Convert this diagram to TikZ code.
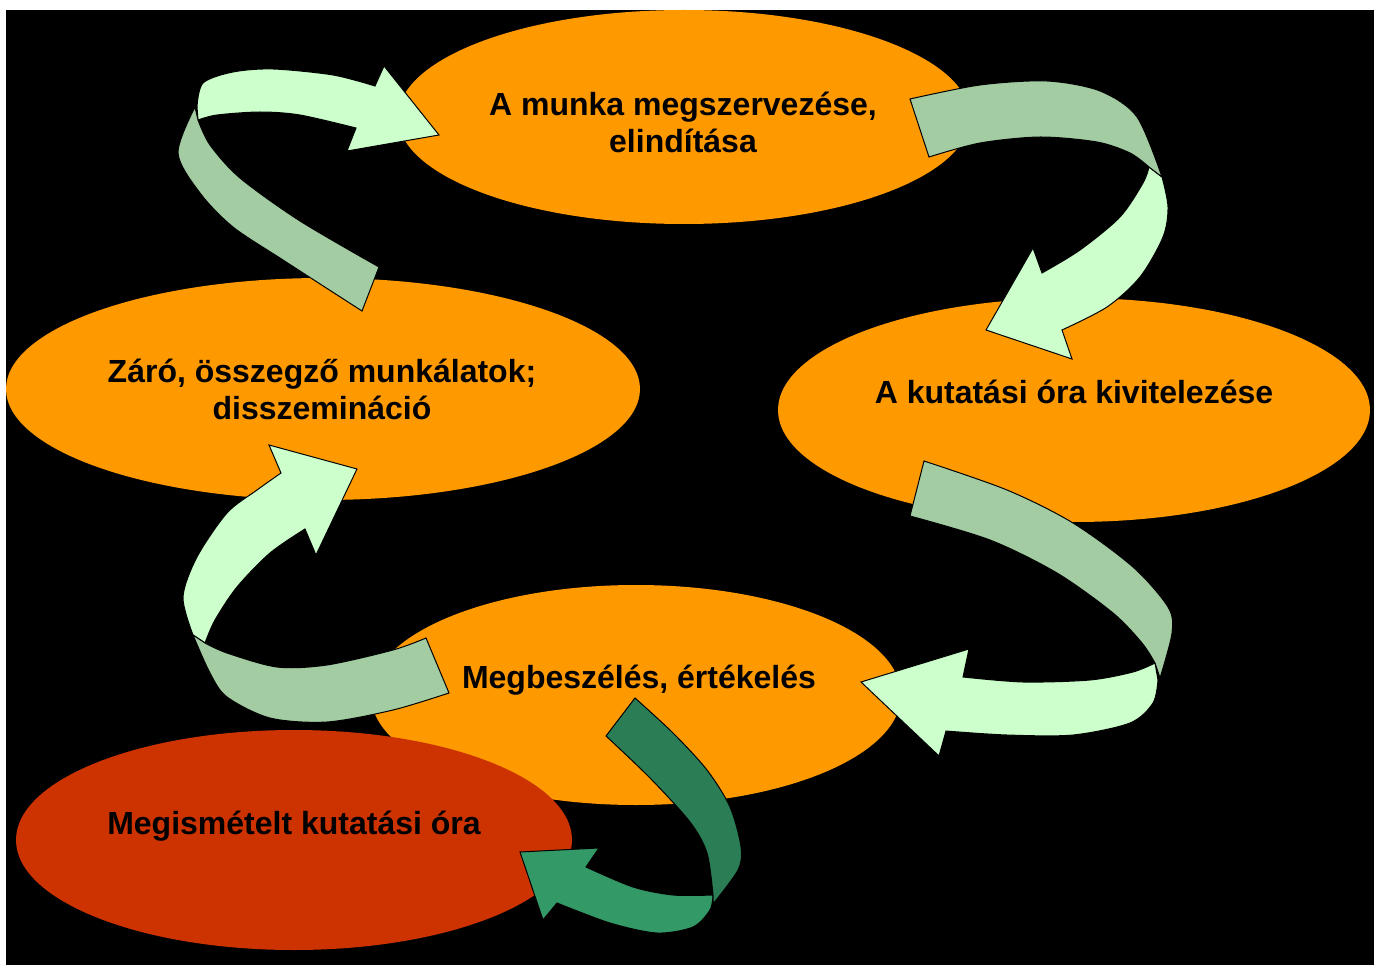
\documentclass[tikz,border=0pt]{standalone}
\usepackage{fontspec}
\setmainfont{Liberation Sans}
\definecolor{orangeE}{HTML}{FF9900}
\definecolor{redE}{HTML}{CC3300}
\definecolor{lightG}{HTML}{CCFFCC}
\definecolor{midG}{HTML}{A3CCA3}
\definecolor{darkG}{HTML}{2A7D55}
\definecolor{darkGl}{HTML}{339966}
\begin{document}
\begin{tikzpicture}[x=1pt,y=-1pt,
  lbl/.style={font=\fontsize{32}{37}\selectfont\bfseries, align=center, text=black, inner sep=0pt},
  bandback/.style={fill=midG, draw=black, line width=1pt, line join=miter},
  bandfront/.style={fill=lightG, draw=black, line width=1pt, line join=miter},
  bandbackD/.style={fill=darkG, draw=black, line width=1pt, line join=miter},
  bandfrontD/.style={fill=darkGl, draw=black, line width=1pt, line join=miter}]
\useasboundingbox (0,0) rectangle (1374,965);
\fill[white] (0,0) rectangle (1374,965);
\fill[black] (6,10) rectangle (1374,965);
% ellipses
\fill[orangeE] (684,117) ellipse [x radius=286pt, y radius=107pt];
\fill[orangeE] (1074,410) ellipse [x radius=296pt, y radius=112pt];
\fill[orangeE] (323,389) ellipse [x radius=317pt, y radius=111pt];
\fill[orangeE] (636,695) ellipse [x radius=265pt, y radius=110pt];
\fill[redE] (294,840) ellipse [x radius=278pt, y radius=110pt];
% labels
\node[lbl] (t1) at (683,122) {A munka megszervezése,\\elindítása};
\node[lbl] (t2) at (1074,392) {A kutatási óra kivitelezése};
\node[lbl] (t3) at (322,389) {Záró, összegző munkálatok;\\disszemináció};
\node[lbl] (t4) at (639,680) {Megbeszélés, értékelés};
\node[lbl] (t5) at (294,826) {Megismételt kutatási óra};
% arrow 1 (top-left)
\draw[bandfront] (197,107) -- plot[smooth] coordinates {(197,107) (203,83) (233,72) (273,69) (333,75) (375,86)}
  -- (384,66) -- (439,135) -- (347,151) -- (356,128)
  -- plot[smooth] coordinates {(356,128) (300,115) (260,112) (217,115) (198,120)} -- cycle;
\draw[bandback] (195,107) -- plot[smooth] coordinates {(195,107) (178,153) (200,193) (233,227) (283,260) (362,311)}
  -- (379,267) -- plot[smooth] coordinates {(379,267) (300,221) (240,178) (210,145) (198,120)} -- cycle;
% arrow 2 (top-right)
\draw[bandfront] (1162,177) -- plot[smooth] coordinates {(1162,177) (1168,207) (1163,237) (1140,277) (1107,307) (1062,330)}
  -- (1072,359) -- (986,330) -- (1033,248) -- (1042,273)
  -- plot[smooth] coordinates {(1042,273) (1080,250) (1120,217) (1143,183) (1149,167)} -- cycle;
\draw[bandback] (910,99) -- plot[smooth] coordinates {(910,99) (980,85) (1047,81) (1100,91) (1137,117) (1162,177)}
  -- (1149,167) -- plot[smooth] coordinates {(1149,167) (1130,153) (1097,142) (1040,137) (980,143) (929,157)} -- cycle;
% arrow 3 (right)
\draw[bandfront] (1158,680) -- plot[smooth] coordinates {(1158,680) (1153,703) (1130,723) (1073,735) (1007,735) (946,731)}
  -- (939,756) -- (861,682) -- (969,649) -- (963,677)
  -- plot[smooth] coordinates {(963,677) (1023,682) (1090,680) (1133,672) (1155,663)} -- cycle;
\draw[bandback] (924,461) -- plot[smooth] coordinates {(924,461) (1007,490) (1073,523) (1133,567) (1168,607) (1172,633) (1160,678)}
  -- (1155,663) -- plot[smooth] coordinates {(1155,663) (1142,643) (1113,613) (1057,573) (990,540) (910,516)} -- cycle;
% arrow 4 (bottom-left)
\draw[bandfront] (193,635) -- plot[smooth] coordinates {(193,635) (183,597) (197,557) (227,513) (257,490) (281,473)}
  -- (269,445) -- (357,469) -- (316,555) -- (305,529)
  -- plot[smooth] coordinates {(305,529) (270,553) (237,587) (215,620) (205,643)} -- cycle;
\draw[bandback] (426,638) -- plot[smooth] coordinates {(426,638) (393,650) (327,665) (277,667) (227,653) (205,643)}
  -- (193,635) -- plot[smooth] coordinates {(193,635) (210,673) (227,697) (270,718) (327,722) (393,710) (449,693)} -- cycle;
% arrow 5 (dark green)
\draw[bandfrontD] (713,895) -- plot[smooth] coordinates {(713,895) (710,910) (693,927) (657,933) (610,923) (557,903)}
  -- (543,920) -- (520,852) -- (599,848) -- (586,867)
  -- plot[smooth] coordinates {(586,867) (633,887) (673,895) (713,895)} -- cycle;
\draw[bandbackD] (635,698) -- plot[smooth] coordinates {(635,698) (673,733) (707,770) (730,807) (741,847) (738,870) (713,904)}
  -- (713,895) -- plot[smooth] coordinates {(713,895) (707,853) (690,822) (650,778) (606,736)} -- cycle;
\end{tikzpicture}
\end{document}
